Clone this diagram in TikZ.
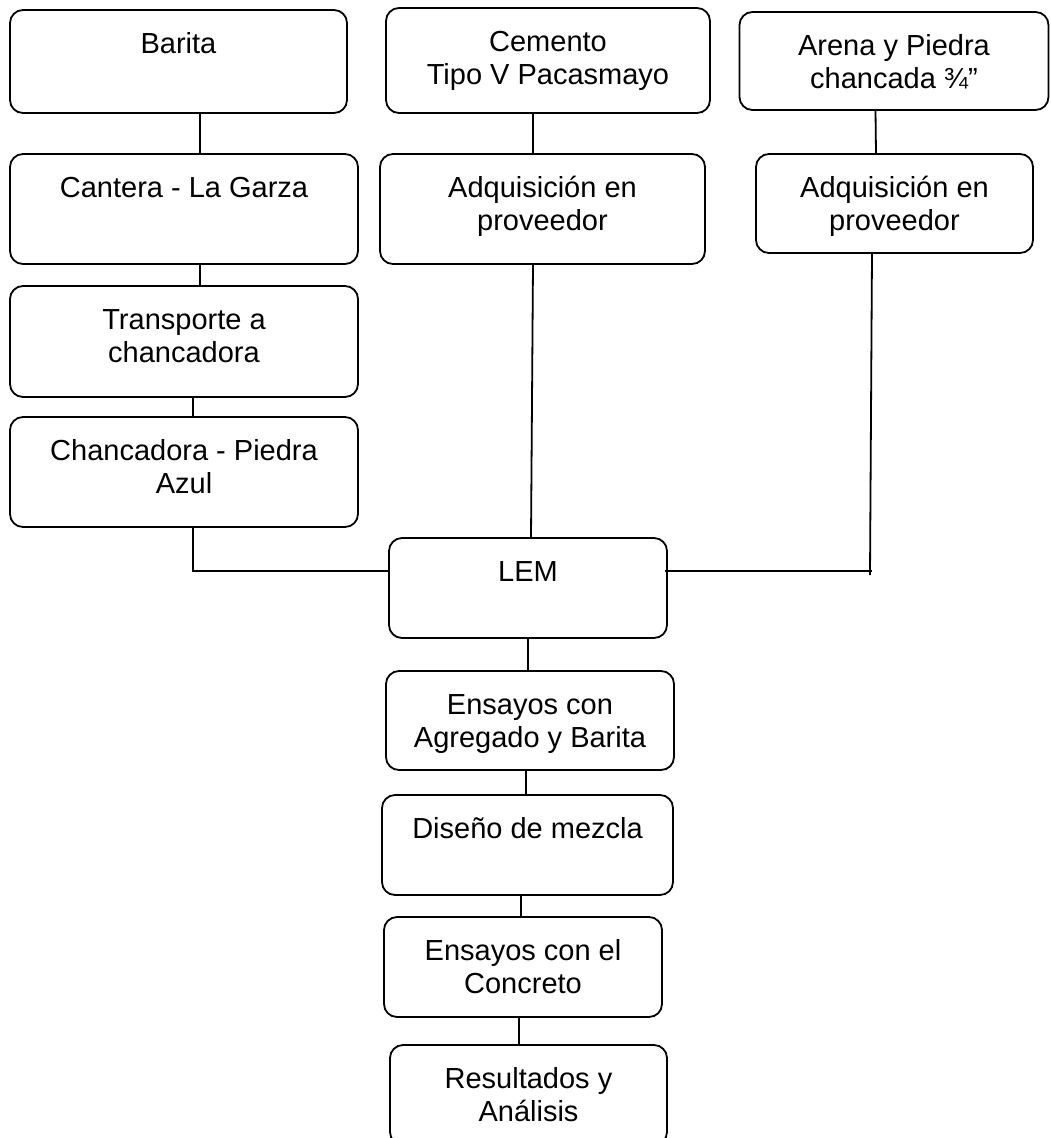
\documentclass[tikz,border=0pt]{standalone}
\usepackage{fontspec}
\setmainfont{Liberation Sans}
\begin{document}
\begin{tikzpicture}[x=1pt,y=-1pt,
  box/.style={draw, line width=1.8pt, rounded corners=13pt, inner sep=0pt, outer sep=0pt},
  txt/.style={anchor=north, yshift=-19.9pt, inner sep=0pt, align=center, font=\fontsize{29}{33}\selectfont},
  link/.style={line width=1.8pt}]
\fill[white] (0,0) rectangle (1051,1138);
\useasboundingbox (0,0) rectangle (1051,1138);

% top row
\node[box, minimum width=337pt, minimum height=103pt, label={[txt]north:{\strut Barita}}] (barita) at (178.5,61.5) {};
\node[box, minimum width=324pt, minimum height=105pt, label={[txt]north:{\strut Cemento\\Tipo V Pacasmayo}}] (cemento) at (548,60.5) {};
\node[box, minimum width=309pt, minimum height=98pt, label={[txt]north:{\strut Arena y Piedra\\chancada ¾”}}] (arena) at (894,61) {};

% second row
\node[box, minimum width=348pt, minimum height=110pt, label={[txt]north:{\strut Cantera - La Garza}}] (cantera) at (184,209) {};
\node[box, minimum width=325pt, minimum height=110pt, label={[txt]north:{\strut Adquisición en\\proveedor}}] (adq1) at (542.5,209) {};
\node[box, minimum width=277pt, minimum height=99pt, label={[txt]north:{\strut Adquisición en\\proveedor}}] (adq2) at (894.5,203.5) {};

% left column
\node[box, minimum width=348pt, minimum height=111pt, label={[txt]north:{\strut Transporte a\\chancadora}}] (transporte) at (184,341.5) {};
\node[box, minimum width=348pt, minimum height=110pt, label={[txt]north:{\strut Chancadora - Piedra\\Azul}}] (chancadora) at (184,472) {};

% centre column
\node[box, minimum width=278pt, minimum height=100pt, label={[txt]north:{\strut LEM}}] (lem) at (528,588) {};
\node[box, minimum width=288pt, minimum height=99pt, label={[txt]north:{\strut Ensayos con\\Agregado y Barita}}] (ens1) at (530,720.5) {};
\node[box, minimum width=291pt, minimum height=100pt, label={[txt]north:{\strut Diseño de mezcla}}] (diseno) at (527.5,845) {};
\node[box, minimum width=278pt, minimum height=100pt, label={[txt]north:{\strut Ensayos con el\\Concreto}}] (ens2) at (523,967) {};
\node[box, minimum width=277pt, minimum height=100pt, label={[txt]north:{\strut Resultados y\\Análisis}}] (result) at (528.5,1095) {};

\coordinate (rj) at (870,571);

% connectors
\draw[link] ([xshift=21.5pt]barita.south) -- ([xshift=16pt]cantera.north);
\draw[link] ([xshift=16pt]cantera.south) -- ([xshift=16pt]transporte.north);
\draw[link] ([xshift=9pt]transporte.south) -- ([xshift=9pt]chancadora.north);
\draw[link] ([xshift=9pt]chancadora.south) |- ([yshift=17pt]lem.west);
\draw[link] ([xshift=-15pt]cemento.south) -- ([xshift=-9.5pt]adq1.north);
\draw[link] ([xshift=-9.5pt]adq1.south) -- ([xshift=3pt]lem.north);
\draw[link] ([xshift=-18.5pt]arena.south) -- ([xshift=-18.5pt]adq2.north);
\draw[link] ([xshift=-22.5pt]adq2.south) -- ([yshift=-4pt]rj);
\draw[link] ([yshift=17pt,xshift=-2pt]lem.east) -- ([xshift=2pt]rj);
\draw[link] (lem.south) -- ([xshift=-2pt]ens1.north);
\draw[link] ([xshift=-4pt]ens1.south) -- ([xshift=-1.5pt]diseno.north);
\draw[link] ([xshift=-6.5pt]diseno.south) -- ([xshift=-2pt]ens2.north);
\draw[link] ([xshift=-4pt]ens2.south) -- ([xshift=-9.5pt]result.north);
\end{tikzpicture}
\end{document}
